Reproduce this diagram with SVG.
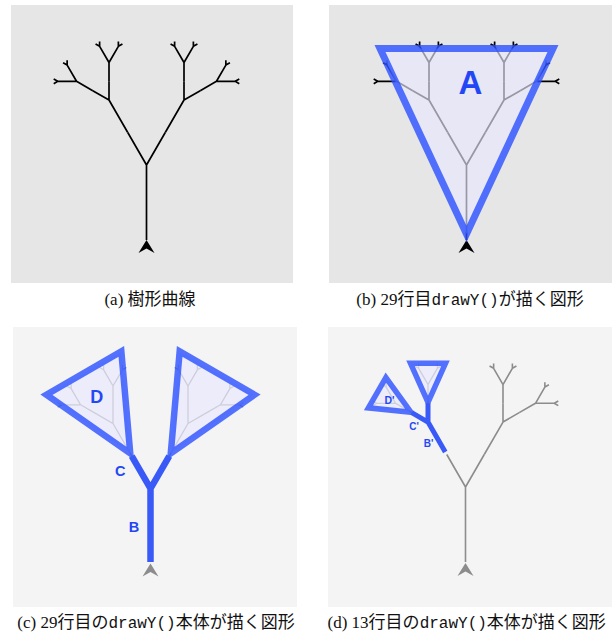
<svg xmlns="http://www.w3.org/2000/svg" width="616" height="634" viewBox="0 0 616 634">
<style>
.bg1{fill:#e6e6e6}
.bg2{fill:#f4f4f4}
.tk{fill:none;stroke:#000;stroke-width:1.7;stroke-linejoin:round}
.tg{fill:none;stroke:#8c8c8c;stroke-width:1.6;stroke-linejoin:round}
.tl{fill:none;stroke:#9a9a9a;stroke-width:1.3;stroke-linejoin:round}
.tri{fill:#e8e8ff;fill-opacity:0.65;stroke:#2a50ff;stroke-opacity:0.8;stroke-linejoin:miter}
.thick{fill:none;stroke:#3a5af8;stroke-linejoin:miter}
.lbl{font-family:"Liberation Sans",Arial,sans-serif;font-weight:bold;fill:#2447f5;text-anchor:middle}
.cap{font-family:"Liberation Serif","Noto Sans CJK JP",serif;font-size:17px;text-anchor:middle;fill:#111}
.mono{font-family:"Liberation Mono","DejaVu Sans Mono",monospace;font-size:16px}
</style>
<defs>
<path id="s2" d="M0,0V-18.75L-9.375,-34.988L-13.434,-37.332M-9.375,-34.988V-39.676M0,-18.75L9.375,-34.988V-39.676M9.375,-34.988L13.434,-37.332"/>
<g id="s1">
<path d="M0,0V-37.5L-9.375,-53.738M0,-37.5L9.375,-53.738"/>
<use href="#s2" transform="translate(-9.375,-53.738) rotate(-30)"/>
<use href="#s2" transform="translate(9.375,-53.738) rotate(30)"/>
</g>
<g id="tree">
<path d="M0,0V-75L-18.75,-107.476M0,-75L18.75,-107.476"/>
<use href="#s1" transform="translate(-18.75,-107.476) rotate(-30)"/>
<use href="#s1" transform="translate(18.75,-107.476) rotate(30)"/>
</g>
<path id="turtle" d="M0,0L8,13L0,8.5L-8,13Z"/>
</defs>

<g id="panel-a">
<rect class="bg1" x="11" y="5" width="282" height="278"/>
<use href="#tree" class="tk" transform="translate(146.5,240)"/>
<use href="#turtle" fill="#000" transform="translate(146.5,240)"/>
<text class="cap" x="150" y="304.5">(a) 樹形曲線</text>
</g>

<g id="panel-b">
<rect class="bg1" x="329" y="5" width="283" height="278"/>
<use href="#tree" class="tk" transform="translate(466.5,240)"/>
<use href="#turtle" fill="#000" transform="translate(466.5,240)"/>
<polygon class="tri" stroke-width="7" points="466.5,234 380,48.5 553,48.5"/>
<text class="lbl" x="470.5" y="94" font-size="33">A</text>
<text class="cap" x="470" y="304.5">(b) 29行目<tspan class="mono">drawY()</tspan>が描く図形</text>
</g>

<g id="panel-c">
<rect class="bg2" x="13" y="327" width="284" height="280"/>
<g transform="translate(131.75,456.024) rotate(-30)">
<use href="#s1" class="tl"/>
<polygon class="tri" stroke-width="6.5" points="0,-3 -43.25,-95.75 43.25,-95.75"/>
</g>
<g transform="translate(169.25,456.024) rotate(30)">
<use href="#s1" class="tl"/>
<polygon class="tri" stroke-width="6.5" points="0,-3 -43.25,-95.75 43.25,-95.75"/>
</g>
<path class="thick" stroke-width="6.5" d="M150.5,562V488.5M131.75,456.024L150.5,488.5L169.25,456.024"/>
<use href="#turtle" fill="#8c8c8c" transform="translate(150.5,563.5)"/>
<text class="lbl" x="96.7" y="402.7" font-size="18">D</text>
<text class="lbl" x="120.3" y="476" font-size="14.5">C</text>
<text class="lbl" x="134" y="532.3" font-size="14.5">B</text>
<text class="cap" x="156" y="628">(c) 29行目の<tspan class="mono">drawY()</tspan>本体が描く図形</text>
</g>

<g id="panel-d">
<rect class="bg2" x="328" y="327" width="284" height="280"/>
<g class="tg" transform="translate(465.5,562)">
<path d="M0,0V-75L-18.75,-107.476M0,-75L18.75,-107.476"/>
<use href="#s1" transform="translate(18.75,-107.476) rotate(30)"/>
</g>
<g transform="translate(446.75,454.524) rotate(-30)">
<g transform="translate(-9.375,-53.738) rotate(-30)">
<use href="#s2" class="tl"/>
<polygon class="tri" stroke-width="5.5" points="0,-1 -17.5,-40 17.5,-40"/>
</g>
<g transform="translate(9.375,-53.738) rotate(30)">
<use href="#s2" class="tl"/>
<polygon class="tri" stroke-width="5.5" points="0,-1 -17.5,-40 17.5,-40"/>
</g>
<path class="thick" stroke-width="5" d="M0,-3V-37.5M-9.375,-53.738L0,-37.5L9.375,-53.738"/>
</g>
<use href="#turtle" fill="#8c8c8c" transform="translate(465.5,563)"/>
<text class="lbl" x="389.5" y="404.3" font-size="10.5">D'</text>
<text class="lbl" x="414" y="429.7" font-size="10">C'</text>
<text class="lbl" x="428.5" y="447.2" font-size="10">B'</text>
<text class="cap" x="466.7" y="628">(d) 13行目の<tspan class="mono">drawY()</tspan>本体が描く図形</text>
</g>
</svg>
